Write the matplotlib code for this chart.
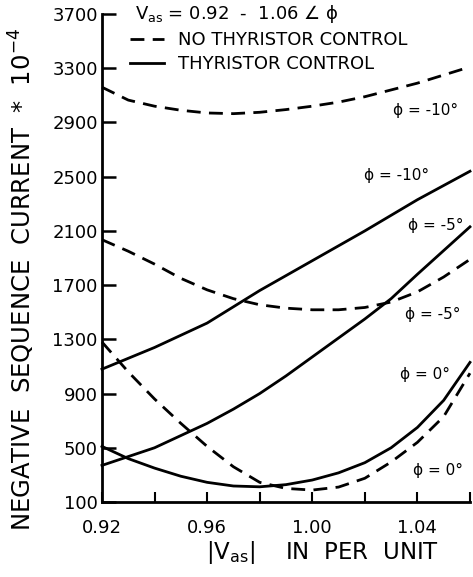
import matplotlib.pyplot as plt
from matplotlib.lines import Line2D

plt.rcParams['font.family'] = 'DejaVu Sans'
plt.rcParams['mathtext.default'] = 'regular'

# |Vas| in per unit
v_as = [0.92, 0.93, 0.94, 0.95, 0.96, 0.97, 0.98, 0.99, 1.00,
        1.01, 1.02, 1.03, 1.04, 1.05, 1.06]

# negative sequence current * 10^-4
no_ctrl_m10 = [3160, 3065, 3020, 2990, 2970, 2965, 2975, 2995, 3020,
               3050, 3090, 3140, 3190, 3250, 3310]
no_ctrl_m5 = [2035, 1950, 1855, 1750, 1665, 1600, 1555, 1530, 1518,
              1518, 1535, 1575, 1650, 1760, 1890]
no_ctrl_0 = [1280, 1060, 860, 680, 510, 360, 245, 200, 188,
             210, 275, 395, 540, 730, 1050]
ctrl_m10 = [1080, 1160, 1240, 1330, 1420, 1540, 1660, 1770, 1880,
            1990, 2100, 2215, 2330, 2435, 2540]
ctrl_m5 = [370, 435, 500, 590, 680, 785, 900, 1030, 1170,
           1310, 1450, 1600, 1780, 1955, 2130]
ctrl_0 = [510, 420, 350, 290, 245, 218, 212, 228, 262,
          315, 390, 500, 650, 850, 1130]

# (x, y, text) for the curve labels
curve_labels = [
    (1.043, 2990, '\u03d5 = -10\u00b0'),
    (1.032, 2510, '\u03d5 = -10\u00b0'),
    (1.047, 2143, '\u03d5 = -5\u00b0'),
    (1.046, 1480, '\u03d5 = -5\u00b0'),
    (1.043, 1037, '\u03d5 = 0\u00b0'),
    (1.048, 336, '\u03d5 = 0\u00b0'),
]

x_major = [0.92, 0.96, 1.00, 1.04]
x_minor = [0.94, 0.98, 1.02, 1.06]
y_ticks = list(range(100, 3701, 400))

fig = plt.figure(figsize=(4.73, 5.77), dpi=100)
ax = fig.add_axes([0.2156, 0.130, 0.778, 0.8457])

dash = (5, 3)
lw = 2.0
for ys in [no_ctrl_m10, no_ctrl_m5, no_ctrl_0]:
    ax.plot(v_as, ys, color='black', lw=lw, linestyle=(0, dash), clip_on=False)
for ys in [ctrl_m10, ctrl_m5, ctrl_0]:
    ax.plot(v_as, ys, color='black', lw=lw, clip_on=False)

for x, y, t in curve_labels:
    ax.text(x, y, t, fontsize=11, ha='center', va='center')

ax.set_xlim(0.92, 1.06)
ax.set_ylim(100, 3700)
ax.set_xticks(x_major)
ax.set_xticklabels(['%.2f' % v for v in x_major])
ax.set_xticks(x_minor, minor=True)
ax.set_yticks(y_ticks)
ax.set_yticklabels([str(v) for v in y_ticks])

for side in ['top', 'right']:
    ax.spines[side].set_visible(False)
for side in ['left', 'bottom']:
    ax.spines[side].set_linewidth(2.0)

ax.tick_params(axis='y', direction='in', length=10, width=1.8, labelsize=13, pad=3)
ax.tick_params(axis='x', which='both', direction='in', length=7, width=1.5,
               labelsize=13, pad=12)

ax.text(0.09, 1.0, 'V$_{as}$ = 0.92  -  1.06 $\\angle$ \u03d5',
        transform=ax.transAxes, fontsize=13, ha='left', va='center')

handles = [Line2D([], [], color='black', lw=lw, linestyle=(0, dash)),
           Line2D([], [], color='black', lw=lw)]
ax.legend(handles, ['NO THYRISTOR CONTROL', 'THYRISTOR CONTROL'],
          loc='upper left', bbox_to_anchor=(0.075, 0.965), frameon=False,
          fontsize=13, handlelength=1.9, handletextpad=0.8,
          labelspacing=0.35, borderpad=0, borderaxespad=0)

fig.text(22 / 473, 0.515, 'NEGATIVE  SEQUENCE  CURRENT  *  10$^{-4}$',
         rotation=90, fontsize=17.5, ha='center', va='center')
fig.text(322 / 473, 1 - 553 / 577, '|V$_{as}$|    IN  PER  UNIT',
         fontsize=16.5, ha='center', va='center')

fig.savefig('out.png', dpi=100, facecolor='white')
